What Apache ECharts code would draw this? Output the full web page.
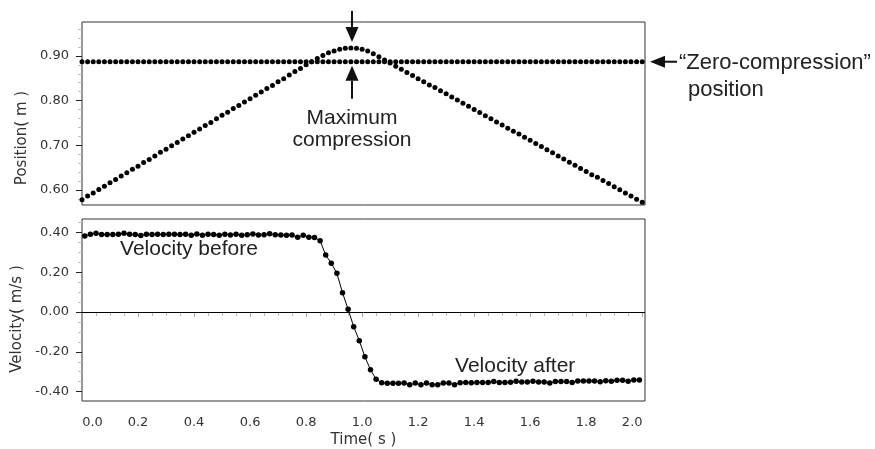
<!DOCTYPE html>
<html>
<head>
<meta charset="utf-8">
<title>Cart hitting a spring: position and velocity</title>
<script src="https://cdn.jsdelivr.net/npm/echarts@6/dist/echarts.min.js"></script>
<style>
html, body { margin: 0; padding: 0; background: #fff; }
#main { width: 875px; height: 449px; }
</style>
</head>
<body>
<div id="main"></div>
<script>
// sample times of the position runs (s)
const time = [
  0.00, 0.02, 0.04, 0.06, 0.08, 0.10, 0.12, 0.14, 0.16, 0.18,
  0.20, 0.22, 0.24, 0.26, 0.28, 0.30, 0.32, 0.34, 0.36, 0.38,
  0.40, 0.42, 0.44, 0.46, 0.48, 0.50, 0.52, 0.54, 0.56, 0.58,
  0.60, 0.62, 0.64, 0.66, 0.68, 0.70, 0.72, 0.74, 0.76, 0.78,
  0.80, 0.82, 0.84, 0.86, 0.88, 0.90, 0.92, 0.94, 0.96, 0.98,
  1.00, 1.02, 1.04, 1.06, 1.08, 1.10, 1.12, 1.14, 1.16, 1.18,
  1.20, 1.22, 1.24, 1.26, 1.28, 1.30, 1.32, 1.34, 1.36, 1.38,
  1.40, 1.42, 1.44, 1.46, 1.48, 1.50, 1.52, 1.54, 1.56, 1.58,
  1.60, 1.62, 1.64, 1.66, 1.68, 1.70, 1.72, 1.74, 1.76, 1.78,
  1.80, 1.82, 1.84, 1.86, 1.88, 1.90, 1.92, 1.94, 1.96, 1.98,
  2.00
];

// cart position (m)
const position = [
  0.578, 0.586, 0.593, 0.601, 0.608, 0.616, 0.623, 0.631, 0.638, 0.646,
  0.653, 0.661, 0.668, 0.676, 0.684, 0.691, 0.699, 0.706, 0.714, 0.721,
  0.729, 0.736, 0.744, 0.751, 0.759, 0.767, 0.774, 0.782, 0.789, 0.797,
  0.804, 0.812, 0.819, 0.827, 0.834, 0.842, 0.849, 0.857, 0.865, 0.872,
  0.880, 0.887, 0.894, 0.901, 0.907, 0.911, 0.915, 0.917, 0.918, 0.917,
  0.915, 0.911, 0.905, 0.898, 0.891, 0.884, 0.877, 0.870, 0.863, 0.856,
  0.849, 0.842, 0.835, 0.829, 0.822, 0.815, 0.808, 0.801, 0.794, 0.787,
  0.780, 0.773, 0.766, 0.759, 0.752, 0.745, 0.738, 0.731, 0.725, 0.718,
  0.711, 0.704, 0.697, 0.690, 0.683, 0.676, 0.669, 0.662, 0.655, 0.648,
  0.641, 0.634, 0.628, 0.621, 0.614, 0.607, 0.600, 0.593, 0.586, 0.579,
  0.572
];

// cart resting against the uncompressed spring (m)
const restPosition = [
  0.887, 0.887, 0.887, 0.887, 0.887, 0.887, 0.887, 0.887, 0.887, 0.887,
  0.887, 0.887, 0.887, 0.887, 0.887, 0.887, 0.887, 0.887, 0.887, 0.887,
  0.887, 0.887, 0.887, 0.887, 0.887, 0.887, 0.887, 0.887, 0.887, 0.887,
  0.887, 0.887, 0.887, 0.887, 0.887, 0.887, 0.887, 0.887, 0.887, 0.887,
  0.887, 0.887, 0.887, 0.887, 0.887, 0.887, 0.887, 0.887, 0.887, 0.887,
  0.887, 0.887, 0.887, 0.887, 0.887, 0.887, 0.887, 0.887, 0.887, 0.887,
  0.887, 0.887, 0.887, 0.887, 0.887, 0.887, 0.887, 0.887, 0.887, 0.887,
  0.887, 0.887, 0.887, 0.887, 0.887, 0.887, 0.887, 0.887, 0.887, 0.887,
  0.887, 0.887, 0.887, 0.887, 0.887, 0.887, 0.887, 0.887, 0.887, 0.887,
  0.887, 0.887, 0.887, 0.887, 0.887, 0.887, 0.887, 0.887, 0.887, 0.887,
  0.887
];

// velocity samples sit between position samples (s)
const velTime = [
  0.01, 0.03, 0.05, 0.07, 0.09, 0.11, 0.13, 0.15, 0.17, 0.19,
  0.21, 0.23, 0.25, 0.27, 0.29, 0.31, 0.33, 0.35, 0.37, 0.39,
  0.41, 0.43, 0.45, 0.47, 0.49, 0.51, 0.53, 0.55, 0.57, 0.59,
  0.61, 0.63, 0.65, 0.67, 0.69, 0.71, 0.73, 0.75, 0.77, 0.79,
  0.81, 0.83, 0.85, 0.87, 0.89, 0.91, 0.93, 0.95, 0.97, 0.99,
  1.01, 1.03, 1.05, 1.07, 1.09, 1.11, 1.13, 1.15, 1.17, 1.19,
  1.21, 1.23, 1.25, 1.27, 1.29, 1.31, 1.33, 1.35, 1.37, 1.39,
  1.41, 1.43, 1.45, 1.47, 1.49, 1.51, 1.53, 1.55, 1.57, 1.59,
  1.61, 1.63, 1.65, 1.67, 1.69, 1.71, 1.73, 1.75, 1.77, 1.79,
  1.81, 1.83, 1.85, 1.87, 1.89, 1.91, 1.93, 1.95, 1.97, 1.99
];

// velocity (m/s)
const velocity = [
  0.382, 0.390, 0.396, 0.389, 0.389, 0.389, 0.390, 0.396, 0.390, 0.389,
  0.384, 0.390, 0.389, 0.390, 0.389, 0.390, 0.390, 0.389, 0.390, 0.386,
  0.392, 0.386, 0.390, 0.389, 0.386, 0.391, 0.387, 0.391, 0.386, 0.388,
  0.392, 0.387, 0.388, 0.393, 0.388, 0.387, 0.386, 0.387, 0.375, 0.386,
  0.375, 0.374, 0.358, 0.286, 0.245, 0.194, 0.097, 0.014, -0.074, -0.144,
  -0.225, -0.290, -0.338, -0.355, -0.358, -0.358, -0.358, -0.357, -0.366, -0.357,
  -0.366, -0.356, -0.365, -0.365, -0.357, -0.357, -0.366, -0.355, -0.354, -0.355,
  -0.354, -0.354, -0.354, -0.349, -0.354, -0.354, -0.353, -0.348, -0.352, -0.352,
  -0.348, -0.351, -0.351, -0.356, -0.349, -0.349, -0.349, -0.354, -0.346, -0.347,
  -0.346, -0.346, -0.350, -0.345, -0.348, -0.343, -0.343, -0.348, -0.342, -0.342
];

// tick values
const posTicks = [0.60, 0.70, 0.80, 0.90];
const posMinorTicks = [0.58, 0.62, 0.64, 0.66, 0.68, 0.72, 0.74, 0.76, 0.78,
  0.82, 0.84, 0.86, 0.88, 0.92, 0.94, 0.96];
const velTicks = [-0.40, -0.20, 0.00, 0.20, 0.40];
const velMinorTicks = [-0.35, -0.30, -0.25, -0.15, -0.10, -0.05,
  0.05, 0.10, 0.15, 0.25, 0.30, 0.35, 0.45];
const timeTicks = [0.0, 0.2, 0.4, 0.6, 0.8, 1.0, 1.2, 1.4, 1.6, 1.8, 2.0];
const timeMinorTicks = [0.05, 0.10, 0.15, 0.25, 0.30, 0.35, 0.45, 0.50, 0.55,
  0.65, 0.70, 0.75, 0.85, 0.90, 0.95, 1.05, 1.10, 1.15, 1.25, 1.30, 1.35,
  1.45, 1.50, 1.55, 1.65, 1.70, 1.75, 1.85, 1.90, 1.95];

const pair = (xs, ys) => xs.map((x, i) => [x, ys[i]]);

const tMin = 0, tMax = 2.01;
const tickFont = { fontFamily: 'DejaVu Sans', fontSize: 13, color: '#333' };
const nameFont = { fontFamily: 'DejaVu Sans', fontSize: 15, color: '#333' };
const noLine = { show: false };
const noSplit = { show: false };
const dot = { color: '#000', opacity: 1 };

const chart = echarts.init(document.getElementById('main'));

chart.setOption({
  animation: false,
  backgroundColor: '#fff',
  grid: [
    { left: 82, top: 22, width: 563, height: 183, show: true, borderColor: '#333', borderWidth: 1 },
    { left: 82, top: 219, width: 563, height: 182, show: true, borderColor: '#333', borderWidth: 1 }
  ],
  xAxis: [
    { gridIndex: 0, type: 'value', min: tMin, max: tMax, axisLine: noLine, splitLine: noSplit,
      axisTick: { show: false }, axisLabel: { show: false } },
    { gridIndex: 1, type: 'value', min: tMin, max: tMax, position: 'bottom',
      axisLine: noLine, splitLine: noSplit,
      axisTick: { customValues: timeTicks, length: 5, lineStyle: { color: '#aaa' } },
      axisLabel: {
        customValues: timeTicks, margin: 15, ...tickFont,
        formatter: v => {
          const s = v.toFixed(1);
          if (v === 0) return '{l|' + s + '}';
          if (Math.abs(v - 2) < 1e-9) return '{r|' + s + '}';
          return s;
        },
        rich: {
          l: { ...tickFont, padding: [0, 0, 0, 21] },
          r: { ...tickFont, padding: [0, 20, 0, 0] }
        }
      },
      name: 'Time( s )', nameLocation: 'middle', nameGap: 32, nameTextStyle: nameFont },
    { gridIndex: 1, type: 'value', min: tMin, max: tMax, position: 'bottom',
      axisLine: noLine, splitLine: noSplit, axisLabel: { show: false },
      axisTick: { customValues: timeMinorTicks, length: 4, lineStyle: { color: '#bbb' } } }
  ],
  yAxis: [
    { gridIndex: 0, type: 'value', min: 0.566, max: 0.976, position: 'left',
      axisLine: noLine, splitLine: noSplit,
      axisTick: { customValues: posTicks, length: 6, lineStyle: { color: '#222' } },
      axisLabel: { customValues: posTicks, margin: 13, ...tickFont, formatter: v => v.toFixed(2) },
      name: 'Position( m )', nameLocation: 'middle', nameGap: 49,
      nameTextStyle: { ...nameFont, padding: [0, 49, 0, 0] } },
    { gridIndex: 0, type: 'value', min: 0.566, max: 0.976, position: 'left',
      axisLine: noLine, splitLine: noSplit, axisLabel: { show: false },
      axisTick: { customValues: posMinorTicks, length: 4, lineStyle: { color: '#bbb' } } },
    { gridIndex: 1, type: 'value', min: -0.447, max: 0.467, position: 'left',
      axisLine: noLine, splitLine: noSplit,
      axisTick: { customValues: velTicks, length: 6, lineStyle: { color: '#222' } },
      axisLabel: { customValues: velTicks, margin: 13, ...tickFont, formatter: v => v.toFixed(2) },
      name: 'Velocity( m/s )', nameLocation: 'middle', nameGap: 49,
      nameTextStyle: { ...nameFont, padding: [0, 18, 0, 0] } },
    { gridIndex: 1, type: 'value', min: -0.447, max: 0.467, position: 'left',
      axisLine: noLine, splitLine: noSplit, axisLabel: { show: false },
      axisTick: { customValues: velMinorTicks, length: 4, lineStyle: { color: '#bbb' } } }
  ],
  series: [
    { name: 'Position', type: 'scatter', xAxisIndex: 0, yAxisIndex: 0,
      data: pair(time, position), symbol: 'circle', symbolSize: 5, itemStyle: dot },
    { name: 'Zero-compression', type: 'scatter', xAxisIndex: 0, yAxisIndex: 0,
      data: pair(time, restPosition), symbol: 'circle', symbolSize: 5, itemStyle: dot },
    { name: 'Velocity', type: 'line', xAxisIndex: 1, yAxisIndex: 2,
      data: pair(velTime, velocity), symbol: 'circle', symbolSize: 5.5,
      showSymbol: true, showAllSymbol: true,
      lineStyle: { color: '#000', width: 1 }, itemStyle: dot,
      markLine: {
        silent: true, symbol: 'none', label: { show: false },
        lineStyle: { color: '#000', width: 1, type: 'solid' },
        data: [{ yAxis: 0 }]
      } }
  ]
});

// annotations, anchored to data coordinates
const peakTime = 0.964, peakPos = 0.918, restPos = 0.887;
const upperPanel = { xAxisIndex: 0, yAxisIndex: 0 };
const lowerPanel = { xAxisIndex: 1, yAxisIndex: 2 };
const P = chart.convertToPixel(upperPanel, [peakTime, peakPos]);
const R = chart.convertToPixel(upperPanel, [peakTime, restPos]);
const E = chart.convertToPixel(upperPanel, [tMax, restPos]);
const B = chart.convertToPixel(lowerPanel, [0.136, 0.313]);
const A = chart.convertToPixel(lowerPanel, [1.332, -0.271]);

function arrow(tipX, tipY, tailX, tailY, headLen, headWidth) {
  const dx = tailX - tipX, dy = tailY - tipY;
  const len = Math.hypot(dx, dy);
  const ux = dx / len, uy = dy / len;
  const bx = tipX + ux * headLen, by = tipY + uy * headLen;
  const px = -uy * headWidth / 2, py = ux * headWidth / 2;
  return [
    { type: 'line', shape: { x1: bx, y1: by, x2: tailX, y2: tailY },
      style: { stroke: '#111', lineWidth: 2 } },
    { type: 'polygon', shape: { points: [[tipX, tipY], [bx + px, by + py], [bx - px, by - py]] },
      style: { fill: '#111' } }
  ];
}

const note = (text, x, y, align, size) => ({
  type: 'text', x: x, y: y,
  style: { text: text, fontFamily: 'Liberation Sans', fontSize: size || 21, fill: '#222',
    align: align || 'left', verticalAlign: 'middle' }
});

chart.setOption({
  graphic: [
    ...arrow(P[0], P[1] - 6, P[0], P[1] - 37, 15, 13),
    ...arrow(R[0], R[1] + 4, R[0], R[1] + 37, 15, 13),
    note('Maximum', R[0], R[1] + 56, 'center'),
    note('compression', R[0], R[1] + 78, 'center'),
    ...arrow(E[0] + 5, E[1], E[0] + 32, E[1], 15, 12),
    note('\u201cZero-compression\u201d', E[0] + 34, E[1] + 1, 'left', 22),
    note('position', E[0] + 43, E[1] + 28, 'left', 22),
    note('Velocity before', B[0], B[1]),
    note('Velocity after', A[0], A[1])
  ]
});
</script>
</body>
</html>
